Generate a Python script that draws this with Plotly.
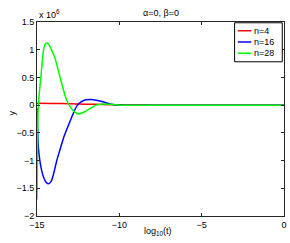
import plotly.graph_objects as go

# log10(t) positions and y values (in units of 1e6)
t_n4 = [-15, -14, -13, -12, -11, -10, -9, -8, -5, 0]
y_n4 = [0.035, 0.03, 0.025, 0.018, 0.011, 0.006, 0.002, 0.0, 0.0, 0.0]

t_n16 = [-15, -14.97, -14.93, -14.87, -14.8, -14.7, -14.6, -14.45, -14.3, -14.15, -14.0, -13.8, -13.6, -13.4, -13.1, -12.8, -12.55, -12.2, -11.77, -11.4, -11.0, -10.56, -9.95, -8, -5, 0]
y_n16 = [-0.05, -0.35, -0.7, -0.9, -1.05, -1.2, -1.3, -1.39, -1.42, -1.38, -1.25, -1.0, -0.8, -0.6, -0.37, -0.15, 0.0, 0.08, 0.1, 0.09, 0.06, 0.02, 0.0, 0.0, 0.0, 0.0]

t_n28 = [-15, -14.97, -14.94, -14.88, -14.8, -14.7, -14.6, -14.5, -14.4, -14.3, -14.2, -14.05, -13.9, -13.7, -13.5, -13.3, -13.1, -12.8, -12.48, -12.1, -11.77, -11.4, -11.0, -10.6, -10.0, -8, -5, 0]
y_n28 = [-1.7, -0.9, -0.15, 0.15, 0.4, 0.72, 1.0, 1.1, 1.12, 1.1, 1.05, 0.95, 0.84, 0.62, 0.39, 0.18, 0.03, -0.1, -0.16, -0.12, -0.06, 0.0, 0.02, 0.015, 0.0, 0.0, 0.0, 0.0]

series = [
    ("n=4", t_n4, y_n4, "#ff0000"),
    ("n=16", t_n16, y_n16, "#0000ff"),
    ("n=28", t_n28, y_n28, "#00ff00"),
]

x_ticks = [-15, -10, -5, 0]
y_ticks = [-2, -1.5, -1, -0.5, 0, 0.5, 1, 1.5]

fig = go.Figure()
for name, t, y, c in series:
    fig.add_trace(go.Scatter(x=t, y=y, mode="lines", name=name, showlegend=False,
                             line=dict(color=c, width=1.5, shape="spline", smoothing=0.6)))

axis_common = dict(showgrid=False, zeroline=False, showline=True, linecolor="#262626",
                   linewidth=1, mirror="ticks", ticks="inside", ticklen=3,
                   tickcolor="#262626", tickfont=dict(size=9, color="#000"),
                   automargin=False)

fig.update_layout(
    width=290, height=243,
    margin=dict(l=37, r=6, t=22, b=27),
    paper_bgcolor="white", plot_bgcolor="white",
    font=dict(family="Liberation Sans, Arial, sans-serif", size=9, color="#000"),
    title=dict(text="α=0, β=0", x=0.555, xanchor="center", y=0.948, yanchor="middle",
               font=dict(size=9)),
    xaxis=dict(range=[-15, 0], tickvals=x_ticks, ticktext=[str(v).replace("-", "−") for v in x_ticks],
               **axis_common),
    yaxis=dict(range=[-2, 1.5], tickvals=y_ticks,
               ticktext=[("%g" % v).replace("-", "−") for v in y_ticks],
               **axis_common),
    showlegend=False,
)

# legend box drawn in paper coordinates
lx0, lx1, ly0, ly1 = 0.80, 0.993, 0.795, 0.996
fig.add_shape(type="rect", xref="paper", yref="paper", x0=lx0, x1=lx1, y0=ly0, y1=ly1,
              line=dict(color="#000", width=1), fillcolor="white", layer="above")
row_y = [0.955, 0.897, 0.839]
for (name, _, _, c), ry in zip(series, row_y):
    fig.add_shape(type="line", xref="paper", yref="paper", x0=0.813, x1=0.868, y0=ry, y1=ry,
                  line=dict(color=c, width=1.5), layer="above")
    fig.add_annotation(text=name, xref="paper", yref="paper", x=0.87, y=ry,
                       xanchor="left", yanchor="middle", showarrow=False, font=dict(size=9))

fig.add_annotation(text="x 10<sup>6</sup>", xref="paper", yref="paper", x=0.0, y=1.0,
                   xanchor="left", yanchor="bottom", showarrow=False, font=dict(size=9))
fig.add_annotation(text="log<sub>10</sub>(t)", xref="paper", yref="paper", x=0.49, y=-0.04,
                   xanchor="center", yanchor="top", showarrow=False, font=dict(size=9))
fig.add_annotation(text="y", xref="paper", yref="paper", x=-0.1, y=0.53,
                   xanchor="center", yanchor="middle", showarrow=False, textangle=-90,
                   font=dict(size=9))

fig.write_html("out.html", config={"displayModeBar": False},
               post_script="document.body.style.margin='0';document.body.style.overflow='hidden';")
